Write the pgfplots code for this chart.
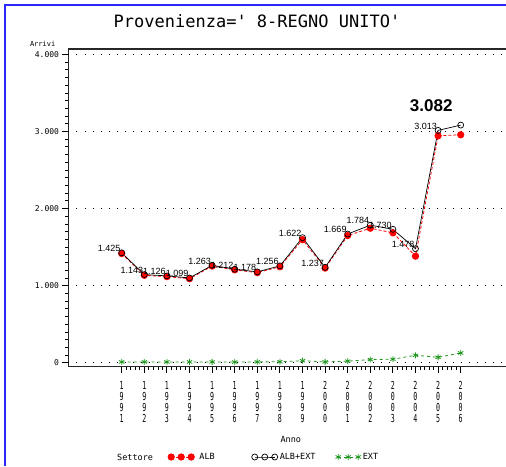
\documentclass[border=0pt]{standalone}
\usepackage{fontspec}
\setmainfont{Liberation Sans}
\newfontfamily\monof{DejaVu Sans Mono}
\newfontfamily\condf{DejaVu Sans Mono}[FakeStretch=0.6]
\usepackage{pgfplots}
\usepackage{pgfplotstable}
\pgfplotsset{compat=1.18}
\definecolor{bord}{RGB}{40,40,255}
\definecolor{extg}{RGB}{30,150,30}

\pgfplotstableread{
anno alb albext ext
1991 1415 1425 10
1992 1133 1143 10
1993 1116 1126 10
1994 1089 1099 10
1995 1253 1263 10
1996 1204 1212 8
1997 1168 1178 10
1998 1244 1256 12
1999 1596 1622 26
2000 1227 1237 10
2001 1649 1669 20
2002 1744 1784 40
2003 1685 1730 45
2004 1382 1478 96
2005 2943 3013 70
2006 2956 3082 126
}\datatab

\begin{document}
\begin{tikzpicture}
\useasboundingbox (0pt,0pt) rectangle (506pt,466pt);
\draw[bord, line width=1.5pt] (5pt,0pt) -- (5pt,461pt) -- (506pt,461pt);
\node[font=\monof\fontsize{17}{18}\selectfont] at (257pt,445pt) {Provenienza=' 8-REGNO UNITO'};
\node[font=\monof\fontsize{8.5}{9}\selectfont, anchor=west, inner sep=0pt] at (117pt,9pt) {Settore};
\begin{axis}[
  at={(68.5pt,99.3pt)}, anchor=south west,
  scale only axis, width=437.5pt, height=317.7pt,
  xmin=1988.646, xmax=2008.004, ymin=-52, ymax=4069,
  clip=false,
  axis x line*=bottom, axis y line*=left,
  axis line style={black!85, line width=1.3pt},
  tick align=outside,
  xtick pos=left, ytick pos=left,
  major tick length=6pt, minor tick length=3pt,
  tick style={draw=black, solid, line width=1pt},
  minor tick style={draw=black, solid, line width=0.7pt},
  xtick={1991,...,2006},
  xticklabels={{1\\9\\9\\1},{1\\9\\9\\2},{1\\9\\9\\3},{1\\9\\9\\4},{1\\9\\9\\5},{1\\9\\9\\6},{1\\9\\9\\7},{1\\9\\9\\8},{1\\9\\9\\9},{2\\0\\0\\0},{2\\0\\0\\1},{2\\0\\0\\2},{2\\0\\0\\3},{2\\0\\0\\4},{2\\0\\0\\5},{2\\0\\0\\6}},
  minor x tick num=4,
  ytick={0,1000,2000,3000,4000},
  minor y tick num=9,
  xticklabel style={font=\condf\fontsize{11}{11}\selectfont, align=center, anchor=north, yshift=-5pt},
  yticklabel style={font=\monof\fontsize{8}{8}\selectfont},
  xlabel={Anno},
  xlabel style={font=\monof\fontsize{8.5}{9}\selectfont, at={(axis description cs:0.5,0)}, anchor=center, xshift=3.6pt, yshift=-72.3pt},
  ylabel={Arrivi},
  ylabel style={font=\monof\fontsize{7}{7}\selectfont, rotate=-90, at={(axis description cs:0,1)}, anchor=south east, inner sep=0pt, xshift=-13pt, yshift=2pt},
  legend columns=-1,
  legend style={at={(axis description cs:0,0)}, anchor=west, xshift=99.3pt, yshift=-90.3pt, draw=none, fill=none, inner sep=0pt,
    font=\monof\fontsize{8.5}{9}\selectfont, /tikz/every even column/.append style={column sep=4pt}},
  legend image code/.code={\draw[mark repeat=1] plot coordinates {(0pt,0pt) (10pt,0pt) (20pt,0pt)};},
  every node near coord/.append style={font=\fontsize{9}{9}\selectfont, anchor=south east, inner sep=1pt, black},
  /pgf/number format/1000 sep={.},
  /pgf/number format/assume math mode=true,
]
\draw[black, line width=0.8pt, dash pattern=on 1pt off 7pt] (axis cs:1988.646,0) -- (axis cs:2008.004,0);
\draw[black, line width=0.8pt, dash pattern=on 1pt off 7pt] (axis cs:1988.646,1000) -- (axis cs:2008.004,1000);
\draw[black, line width=0.8pt, dash pattern=on 1pt off 7pt] (axis cs:1988.646,2000) -- (axis cs:2008.004,2000);
\draw[black, line width=0.8pt, dash pattern=on 1pt off 7pt] (axis cs:1988.646,3000) -- (axis cs:2008.004,3000);
\draw[black, line width=0.8pt, dash pattern=on 1pt off 7pt] (axis cs:1988.646,4000) -- (axis cs:2008.004,4000);
\pgfplotsinvokeforeach{1991,...,2006}{\draw[black, solid, line width=1pt] (axis cs:#1,-52) -- ++(0pt,-6pt);}
\pgfplotsinvokeforeach{1991,...,2005}{
  \draw[black, solid, line width=0.7pt] (axis cs:#1.2,-52) -- ++(0pt,-3pt);
  \draw[black, solid, line width=0.7pt] (axis cs:#1.4,-52) -- ++(0pt,-3pt);
  \draw[black, solid, line width=0.7pt] (axis cs:#1.6,-52) -- ++(0pt,-3pt);
  \draw[black, solid, line width=0.7pt] (axis cs:#1.8,-52) -- ++(0pt,-3pt);}
\pgfplotsinvokeforeach{0,1000,2000,3000,4000}{\draw[black, solid, line width=1pt] (axis cs:1988.646,#1) -- ++(-6pt,0pt);}
\pgfplotsinvokeforeach{0,1000,2000,3000}{
  \draw[black, solid, line width=0.7pt] (axis cs:1988.646,#1+100) -- ++(-3pt,0pt);
  \draw[black, solid, line width=0.7pt] (axis cs:1988.646,#1+200) -- ++(-3pt,0pt);
  \draw[black, solid, line width=0.7pt] (axis cs:1988.646,#1+300) -- ++(-3pt,0pt);
  \draw[black, solid, line width=0.7pt] (axis cs:1988.646,#1+400) -- ++(-3pt,0pt);
  \draw[black, solid, line width=0.7pt] (axis cs:1988.646,#1+500) -- ++(-3pt,0pt);
  \draw[black, solid, line width=0.7pt] (axis cs:1988.646,#1+600) -- ++(-3pt,0pt);
  \draw[black, solid, line width=0.7pt] (axis cs:1988.646,#1+700) -- ++(-3pt,0pt);
  \draw[black, solid, line width=0.7pt] (axis cs:1988.646,#1+800) -- ++(-3pt,0pt);
  \draw[black, solid, line width=0.7pt] (axis cs:1988.646,#1+900) -- ++(-3pt,0pt);}
\addplot[red, densely dashed, line width=0.8pt, mark=*, mark size=3.2pt, mark options={solid, fill=red}] table[x=anno, y=alb] {\datatab};
\addlegendentry{\hspace*{3pt}ALB\hspace*{31pt}}
\addplot[black, line width=0.7pt, mark=o, mark size=3pt, mark options={solid}] table[x=anno, y=albext] {\datatab};
\addlegendentry{ALB+EXT\hspace*{14pt}}
\addplot[extg, dashed, line width=0.8pt, mark=asterisk, mark size=3pt, mark options={solid}] table[x=anno, y=ext] {\datatab};
\addlegendentry{EXT}
\addplot[draw=none, mark=none, forget plot, nodes near coords, restrict x to domain=1990:2005.5] table[x=anno, y=albext] {\datatab};
\addplot[draw=none, mark=none, forget plot, nodes near coords, restrict x to domain=2005.5:2007,
  every node near coord/.append style={font=\bfseries\fontsize{17}{17}\selectfont, xshift=-7pt, yshift=12pt}] table[x=anno, y=albext] {\datatab};
\draw[black!85, line width=1.3pt] (rel axis cs:0,1) -- (rel axis cs:1,1);
\end{axis}
\end{tikzpicture}
\end{document}
